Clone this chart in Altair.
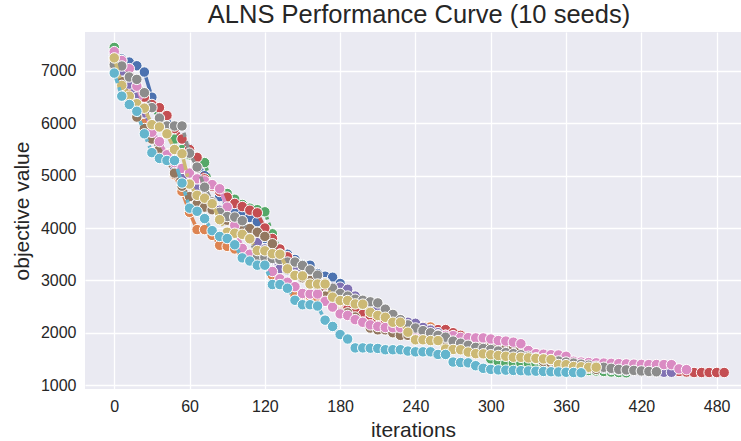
import altair as alt
import pandas as pd

STEP = 6  # iterations between logged points

seed_names = ["seed 1", "seed 2", "seed 3", "seed 4", "seed 5",
              "seed 6", "seed 7", "seed 8", "seed 9", "seed 10"]
colors = ["#4C72B0", "#DD8452", "#55A868", "#C44E52", "#8172B3",
          "#937860", "#DA8BC3", "#8C8C8C", "#CCB974", "#64B5CD"]

blue = [7300, 7230, 7170, 7100, 6980, 6500, 6120, 6000, 5900, 5700, 5520, 5300, 5000, 4800,
        4600, 4450, 4350, 4250, 4200, 4120, 3800, 3700, 3600, 3500, 3400, 3300, 3290, 3130,
        3080, 3060, 2940, 2800, 2650, 2500, 2450, 2400, 2300, 2200, 2150, 2100, 2050, 2000,
        1950, 1900, 1850, 1800, 1750, 1720, 1700, 1690, 1680, 1670, 1665, 1660, 1650, 1550,
        1500, 1450, 1420, 1400, 1380, 1360, 1350, 1340, 1330, 1320, 1310, 1300, 1290, 1280,
        1275, 1270, 1265]
orange = [7200, 6900, 6600, 6300, 6000, 5700, 5550, 5420, 5020, 4700, 4300, 3970, 3970, 3860,
          3670, 3650, 3600, 3500, 3420, 3360, 3300, 3100, 3000, 2900, 2720, 2720, 2700, 2680,
          2600, 2500, 2450, 2400, 2350, 2300, 2250, 2200, 2170, 2150, 2130, 2120, 2120, 2120,
          2110, 2000, 1950, 1900, 1850, 1800, 1750, 1700, 1650, 1600, 1550, 1500, 1450, 1420,
          1400, 1380, 1360, 1340, 1320, 1300]
green = [7450, 7200, 6900, 6700, 6500, 6300, 6100, 5900, 5700, 5500, 5400, 5350, 5250, 4800,
         4700, 4660, 4550, 4450, 4380, 4350, 4310, 3890, 3600, 3450, 3350, 3250, 3150, 3050,
         2950, 2800, 2650, 2550, 2500, 2450, 2400, 2350, 2300, 2250, 2200, 2150, 2100, 2050,
         2000, 1950, 1900, 1850, 1800, 1750, 1700, 1650, 1500, 1450, 1420, 1420, 1420, 1418,
         1418, 1416, 1416, 1415, 1350, 1300, 1290, 1280, 1270, 1260, 1250, 1240, 1235]
red = [7250, 7100, 6900, 6700, 6500, 6360, 6300, 6150, 5900, 5700, 5500, 5350, 4940, 4800,
       4700, 4590, 4470, 4410, 4340, 4290, 4000, 3800, 3600, 3450, 3300, 3200, 3100, 3000,
       2900, 2800, 2600, 2450, 2400, 2350, 2300, 2250, 2200, 2180, 2150, 2130, 2100, 2080,
       2060, 2060, 2060, 2000, 1950, 1900, 1880, 1850, 1830, 1800, 1780, 1750, 1720, 1650,
       1600, 1550, 1500, 1470, 1450, 1420, 1400, 1380, 1370, 1360, 1350, 1340, 1330, 1320,
       1310, 1300, 1290, 1280, 1270, 1260, 1250, 1240, 1240, 1240, 1240, 1240]
purple = [7300, 7000, 6750, 6500, 6200, 5900, 5600, 5300, 5100, 4950, 4850, 4750, 4600, 4450,
          4340, 4200, 4050, 3900, 3800, 3720, 3600, 3400, 3220, 3200, 3180, 3150, 3110, 3030,
          2950, 2870, 2870, 2830, 2700, 2600, 2500, 2450, 2400, 2300, 2250, 2200, 2180, 2100,
          2050, 2000, 1950, 1900, 1850, 1800, 1780, 1775, 1760, 1740, 1720, 1700, 1650, 1600,
          1550, 1500, 1470, 1450, 1420, 1400, 1380, 1360, 1340, 1320, 1300, 1290, 1280, 1270,
          1260, 1250, 1245, 1245, 1245]
brown = [7100, 6800, 6500, 6120, 5900, 5700, 5500, 5300, 5050, 4800, 4600, 4460, 4400, 4350,
         4250, 4150, 4100, 4050, 3990, 3920, 3840, 3700, 3500, 3300, 3100, 3050, 3000, 2900,
         2700, 2500, 2380, 2380, 2300, 2200, 2090, 2055, 2055, 2000, 1950, 1950, 1900, 1880,
         1860, 1850, 1830, 1810, 1790, 1770, 1760, 1750, 1740, 1720, 1700, 1690, 1680, 1600,
         1500, 1450, 1420, 1400, 1380, 1360, 1340, 1320, 1300]
pink = [7370, 7200, 7045, 6710, 6300, 5830, 5650, 5400, 5250, 5140, 5050, 4940, 4900, 4830,
        4750, 4400, 4050, 3610, 3500, 3400, 3300, 3170, 3030, 2965, 2880, 2750, 2740, 2740,
        2600, 2490, 2360, 2330, 2250, 2200, 2150, 2120, 2100, 2095, 2095, 2095, 2050, 2000,
        1980, 1960, 1950, 1945, 1910, 1905, 1900, 1900, 1880, 1850, 1840, 1820, 1790, 1660,
        1600, 1590, 1580, 1575, 1550, 1455, 1440, 1430, 1425, 1420, 1415, 1410, 1405, 1400,
        1395, 1392, 1392, 1392, 1390, 1310, 1295]
gray = [7120, 7095, 6885, 6840, 6585, 6300, 6100, 5950, 5950, 5950, 5430, 5165, 4780, 4500,
        4300, 4220, 4210, 4140, 3800, 3440, 3440, 3420, 3400, 3350, 3350, 3285, 3200, 3100,
        2950, 2850, 2750, 2700, 2640, 2620, 2590, 2570, 2450, 2350, 2250, 2150, 2090, 2040,
        2000, 1950, 1915, 1840, 1800, 1760, 1720, 1700, 1680, 1650, 1620, 1600, 1580, 1550,
        1520, 1500, 1480, 1460, 1440, 1420, 1400, 1380, 1360, 1340, 1320, 1300, 1290, 1280,
        1270, 1260, 1255]
olive = [7250, 6725, 6520, 6375, 6290, 5975, 5930, 5800, 5500, 5420, 4840, 4625, 4570, 4465,
         4160, 3920, 3900, 3880, 3795, 3570, 3565, 3510, 3500, 3220, 3095, 3085, 2930, 2930,
         2930, 2680, 2615, 2615, 2550, 2545, 2390, 2330, 2295, 2200, 2200, 2010, 1865, 1865,
         1850, 1850, 1690, 1680, 1675, 1630, 1600, 1597, 1580, 1565, 1550, 1532, 1530, 1520,
         1510, 1500, 1488, 1392, 1390, 1354, 1350, 1340, 1340]
cyan = [6960, 6520, 6360, 6230, 5800, 5440, 5330, 5290, 5290, 4860, 4380, 4320, 4180, 3950,
        3840, 3800, 3680, 3430, 3370, 3290, 3290, 2920, 2920, 2850, 2620, 2535, 2535, 2510,
        2240, 2120, 1965, 1880, 1710, 1710, 1705, 1700, 1675, 1675, 1675, 1650, 1635, 1635,
        1635, 1585, 1585, 1440, 1430, 1425, 1370, 1320, 1300, 1290, 1285, 1280, 1275, 1270,
        1265, 1260, 1255, 1250, 1245, 1240, 1235]

series = [blue, orange, green, red, purple, brown, pink, gray, olive, cyan]

# seaborn-style default dash patterns (scaled by line width)
dash_units = [None, [4, 1.5], [1, 1], [3, 1.25, 1.5, 1.25], [5, 1, 1, 1],
              [3, 1.25, 1.25, 1.25, 1.25, 1.25], [4, 1, 4, 1, 1, 1],
              [3, 1.25, 3, 1.25, 1.25, 1.25], [4, 1, 1, 1, 1, 1],
              [3, 1.25, 1.25, 1.25, 1.25, 1.25, 1.25, 1.25]]
LW = 3.5

rows = []
for name, vals in zip(seed_names, series):
    for i, v in enumerate(vals):
        rows.append({"seed": name, "iteration": i * STEP, "objective": v})
df = pd.DataFrame(rows)

FONT = "Liberation Sans"
TXT = "#262626"

x_enc = alt.X("iteration:Q",
              scale=alt.Scale(domain=[-23.3, 499.4], nice=False, zero=False),
              axis=alt.Axis(values=[0, 60, 120, 180, 240, 300, 360, 420, 480],
                            title="iterations", grid=True))
y_enc = alt.Y("objective:Q",
              scale=alt.Scale(domain=[925, 7745], nice=False, zero=False),
              axis=alt.Axis(values=[1000, 2000, 3000, 4000, 5000, 6000, 7000],
                            title="objective value", grid=True, format="d"))

layers = []
for k, name in enumerate(seed_names):
    base = alt.Chart(df).transform_filter(alt.datum.seed == name)
    line_kwargs = dict(color=colors[k], strokeWidth=LW, clip=True)
    if dash_units[k] is not None:
        line_kwargs["strokeDash"] = [d * LW for d in dash_units[k]]
    line = base.mark_line(**line_kwargs).encode(x=x_enc, y=y_enc)
    pts = base.mark_circle(size=110, color=colors[k], opacity=1, stroke="white",
                           strokeWidth=1, clip=True).encode(x=x_enc, y=y_enc)
    layers += [line, pts]

chart = alt.layer(*layers).properties(
    width=656,
    height=357,
    title=alt.TitleParams("ALNS Performance Curve (10 seeds)", fontSize=25.5, font=FONT,
                          color=TXT, fontWeight="normal", anchor="middle", dx=6, offset=4),
    autosize=alt.AutoSizeParams(type="none"),
    padding={"left": 85, "top": 32, "right": 0, "bottom": 52},
).configure_view(
    fill="#EAEAF2", stroke=None
).configure_axis(
    gridColor="white", gridWidth=1.3, domain=False, ticks=False,
    labelFont=FONT, labelFontSize=16, labelColor=TXT, labelPadding=9,
    titleFont=FONT, titleFontSize=21, titleColor=TXT, titleFontWeight="normal",
).configure_axisY(titlePadding=8).configure_axisX(titlePadding=5)

chart.save("out.html", embed_options={"renderer": "svg", "actions": False})
